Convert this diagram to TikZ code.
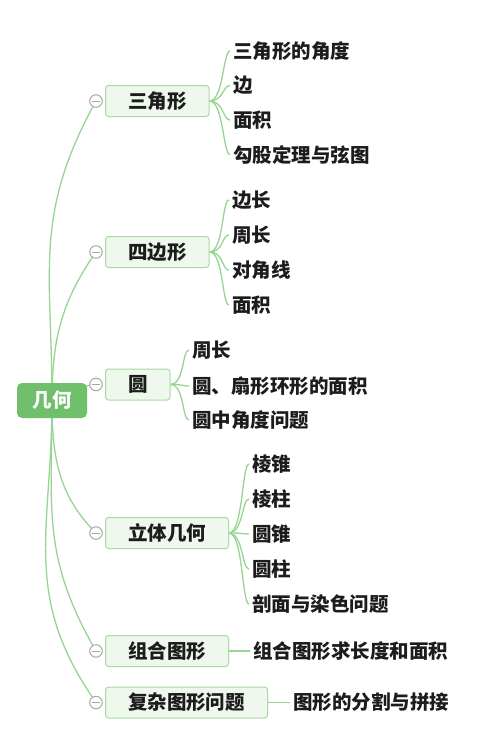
\documentclass[tikz,border=0pt]{standalone}
\usepackage{fontspec}
\setmainfont{Noto Sans CJK SC}
\usetikzlibrary{backgrounds}
\definecolor{lineg}{HTML}{98D493}
\definecolor{boxdraw}{HTML}{A8DBA2}
\definecolor{boxfill}{HTML}{EEF8EC}
\definecolor{rootg}{HTML}{6FBF6B}
\definecolor{foldg}{HTML}{A6A6A6}
\definecolor{textc}{HTML}{1C1C1C}
\newcommand{\mmfont}{\fontsize{19.5}{23}\selectfont\bfseries}
\begin{document}
\begin{tikzpicture}[x=1pt,y=1pt,
  conn/.style={draw=lineg, line width=1.3pt},
  rootbox/.style={fill=rootg, rounded corners=5pt, minimum width=70pt, minimum height=35pt, text=white, font=\mmfont, inner sep=0pt},
  topicbox/.style={fill=boxfill, draw=boxdraw, line width=1pt, rounded corners=3pt, minimum height=31pt, inner xsep=22.5pt, inner ysep=0pt, font=\mmfont, anchor=west, text=textc},
  leaf/.style={anchor=west, inner sep=0pt, font=\mmfont, text=textc},
  fold/.style={circle, draw=foldg, fill=white, line width=1pt, minimum size=12.5pt, inner sep=0pt},
  foldline/.style={draw=foldg, line width=1pt},
]
\useasboundingbox (0,0) rectangle (486,-748);

% root
\node[rootbox] (root) at (52,-400.5) {几何};

% topics
\node[topicbox] (t1) at (105,-101) {三角形};
\node[topicbox] (t2) at (105,-252) {四边形};
\node[topicbox] (t3) at (105,-384.5) {圆};
\node[topicbox] (t4) at (105,-533) {立体几何};
\node[topicbox] (t5) at (105,-651) {组合图形};
\node[topicbox] (t6) at (105,-702.5) {复杂图形问题};

% fold markers
\foreach \i/\y in {1/-101,2/-252,3/-384.5,4/-533,5/-651,6/-702.5}{
  \node[fold] (f\i) at (96,\y) {};
  \draw[foldline] ([xshift=-3.6pt]f\i.center) -- ([xshift=3.6pt]f\i.center);
}

% leaves
\node[leaf] (l11) at (233,-51) {三角形的角度};
\node[leaf] (l12) at (233,-85.5) {边};
\node[leaf] (l13) at (233,-120) {面积};
\node[leaf] (l14) at (233,-154.5) {勾股定理与弦图};

\node[leaf] (l21) at (232,-200) {边长};
\node[leaf] (l22) at (232,-235) {周长};
\node[leaf] (l23) at (232,-270) {对角线};
\node[leaf] (l24) at (232,-305) {面积};

\node[leaf] (l31) at (192,-350) {周长};
\node[leaf] (l32) at (192,-386) {圆、扇形环形的面积};
\node[leaf] (l33) at (192,-420) {圆中角度问题};

\node[leaf] (l41) at (252,-464) {棱锥};
\node[leaf] (l42) at (252,-499) {棱柱};
\node[leaf] (l43) at (252,-534) {圆锥};
\node[leaf] (l44) at (252,-569) {圆柱};
\node[leaf] (l45) at (252,-604) {剖面与染色问题};

\node[leaf] (l51) at (253,-651) {组合图形求长度和面积};
\node[leaf] (l61) at (293,-702.5) {图形的分割与拼接};

\begin{scope}[on background layer]
  \fill[white] (0,0) rectangle (486,-748);
  % root connectors
  \draw[conn] (root.center) to[out=90,in=241,looseness=1.1] (f1.center);
  \draw[conn] (root.center) to[out=90,in=235,looseness=1.0] (f2.center);
  \draw[conn] (root.center) to[out=0,in=180] (f3.center);
  \draw[conn] (root.center) to[out=270,in=135,looseness=1.0] (f4.center);
  \draw[conn] (root.center) to[out=270,in=120,looseness=1.1] (f5.center);
  \draw[conn] (root.center) to[out=270,in=125,looseness=1.1] (f6.center);
  % leaf connectors
  \foreach \t/\l in {1/1,1/2,1/3,1/4,2/1,2/2,2/3,2/4,3/1,3/2,3/3,4/1,4/2,4/3,4/4,4/5}{
    \draw[conn] (t\t.east) .. controls +(14,0) and +(-7,0) .. ([xshift=-3pt]l\t\l.west);
  }
  \draw[conn] (t5.east) -- ([xshift=-3pt]l51.west);
  \draw[conn] (t6.east) -- ([xshift=-3pt]l61.west);
\end{scope}
\end{tikzpicture}
\end{document}
